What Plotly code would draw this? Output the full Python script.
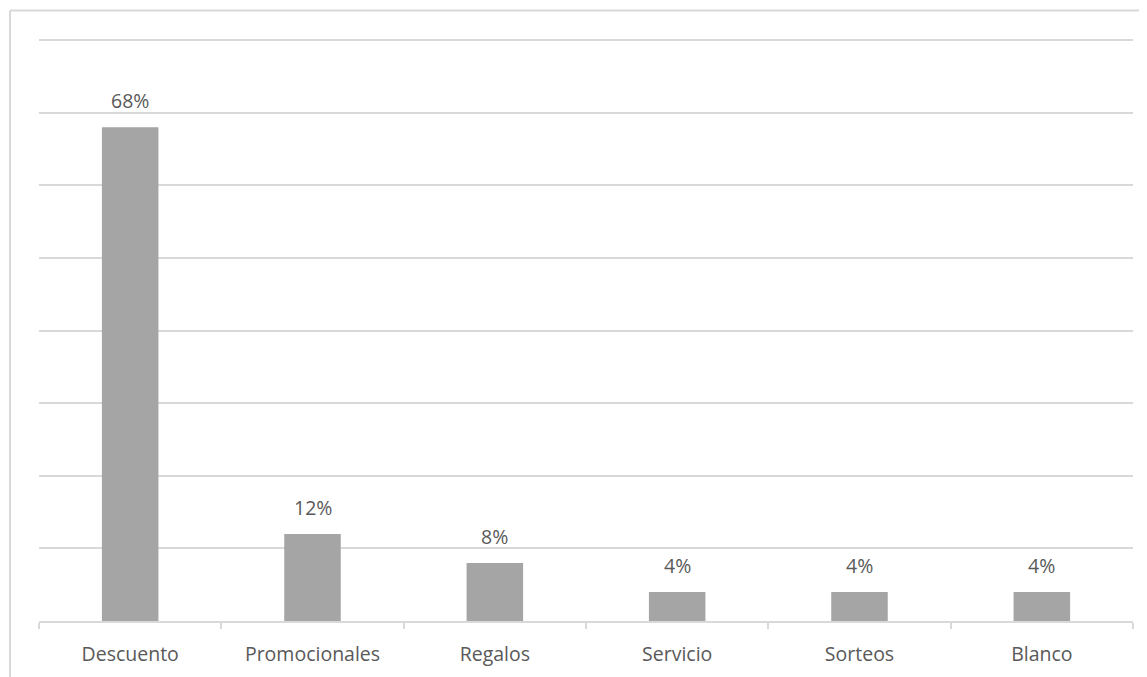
import plotly.graph_objects as go

categories = ["Descuento", "Promocionales", "Regalos", "Servicio", "Sorteos", "Blanco"]
values = [68, 12, 8, 4, 4, 4]
labels = ["68%", "12%", "8%", "4%", "4%", "4%"]

FONT = "Open Sans"
TXT = "#595959"
GRID = "#d9d9d9"

fig = go.Figure(go.Bar(
    x=categories, y=values,
    marker=dict(color="#a5a5a5", line=dict(width=0)),
    hoverinfo="x+y",
))

annotations = [
    dict(x=c, y=v, text=t, xref="x", yref="y", showarrow=False,
         yanchor="bottom", yshift=11,
         font=dict(family=FONT, size=19.5, color=TXT))
    for c, v, t in zip(categories, values, labels)
]

# page body has an 8px margin, so the figure is made 8px smaller and offset accordingly
fig.update_layout(
    width=1139, height=669,
    margin=dict(l=31, r=14, t=30, b=56, pad=0, autoexpand=False),
    paper_bgcolor="white", plot_bgcolor="white",
    bargap=0.69, showlegend=False,
    font=dict(family=FONT, size=19.5, color=TXT),
    annotations=annotations,
    shapes=[
        dict(type="line", xref="paper", yref="paper", x0=-0.0265, x1=1.1, y0=1.047, y1=1.047,
             line=dict(color=GRID, width=2)),
        dict(type="line", xref="paper", yref="paper", x0=-0.0265, x1=-0.0265, y0=1.047, y1=-0.2,
             line=dict(color=GRID, width=2)),
    ],
)
fig.update_xaxes(
    automargin=False,
    showline=True, linecolor=GRID, linewidth=1.5,
    ticks="outside", tickson="boundaries", ticklen=6, tickcolor=GRID, tickwidth=1.5,
    showgrid=False, ticklabelstandoff=15,
    tickfont=dict(family=FONT, size=19.5, color=TXT),
)
fig.update_yaxes(
    automargin=False,
    range=[0, 80.3], tickvals=[10, 20, 30, 40, 50, 60, 70, 80],
    showticklabels=False, showgrid=True,
    gridcolor=GRID, gridwidth=1.5, zeroline=False, showline=False,
)

fig.write_html("out.html")
